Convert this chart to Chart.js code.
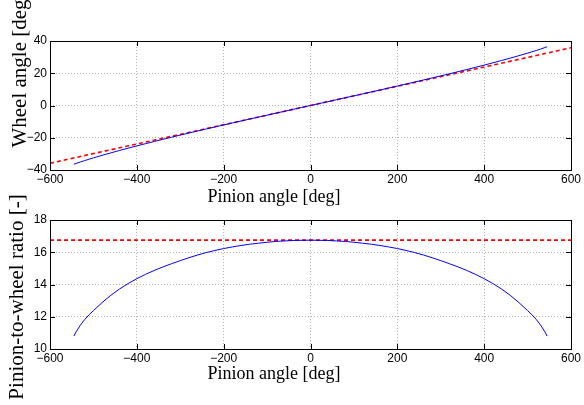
<!DOCTYPE html>
<html>
<head>
<meta charset="utf-8">
<script src="https://cdn.jsdelivr.net/npm/chart.js@4"></script>
<style>
  body { margin: 0; background: #fff; }
  #wrap { position: relative; width: 584px; height: 405px; }
  canvas { position: absolute; left: 0; top: 0; }
</style>
</head>
<body>
<div id="wrap">
  <canvas id="ratioChart" width="584" height="405"></canvas>
  <canvas id="wheelChart" width="584" height="405"></canvas>
</div>
<script>
// pinion angle [deg]
const pinionAngle = [-545, -540, -530, -520, -510, -500, -480, -460, -440, -420, -400, -380, -360, -340, -320,
  -300, -280, -260, -240, -220, -200, -180, -160, -140, -120, -100, -80, -60, -40, -20, 0,
  20, 40, 60, 80, 100, 120, 140, 160, 180, 200, 220, 240, 260, 280, 300,
  320, 340, 360, 380, 400, 420, 440, 460, 480, 500, 510, 520, 530, 540, 545];

// wheel angle [deg]
const wheelAngle = [-36.40, -35.95, -35.00, -34.14, -33.30, -32.49, -30.90, -29.38, -27.90, -26.46, -25.05, -23.67, -22.32, -20.98, -19.66,
  -18.36, -17.08, -15.81, -14.55, -13.30, -12.07, -10.84, -9.62, -8.40, -7.19, -5.99, -4.79, -3.59, -2.39, -1.19, 0,
  1.19, 2.39, 3.59, 4.79, 5.99, 7.19, 8.40, 9.62, 10.84, 12.07, 13.30, 14.55, 15.81, 17.08, 18.36,
  19.66, 20.98, 22.32, 23.67, 25.05, 26.46, 27.90, 29.38, 30.90, 32.49, 33.30, 34.14, 35.00, 35.95, 36.40];

// pinion-to-wheel ratio [-]
const ratio = [10.80, 11.06, 11.48, 11.83, 12.12, 12.38, 12.88, 13.33, 13.72, 14.06, 14.36, 14.63, 14.87, 15.09, 15.29,
  15.48, 15.66, 15.83, 15.98, 16.11, 16.23, 16.33, 16.42, 16.50, 16.56, 16.62, 16.67, 16.70, 16.73, 16.74, 16.75,
  16.74, 16.73, 16.70, 16.67, 16.62, 16.56, 16.50, 16.42, 16.33, 16.23, 16.11, 15.98, 15.83, 15.66, 15.48,
  15.29, 15.09, 14.87, 14.63, 14.36, 14.06, 13.72, 13.33, 12.88, 12.38, 12.12, 11.83, 11.48, 11.06, 10.80];

// constant-ratio reference (red dashed)
const refPinion = [-600, 600];
const refWheel = [-35.8, 35.8];
const refRatio = [16.75, 16.75];

const xTicks = [-600, -400, -200, 0, 200, 400, 600];
const wheelTicks = [-40, -20, 0, 20, 40];
const ratioTicks = [10, 12, 14, 16, 18];

const toPoints = (xs, ys) => xs.map((x, i) => ({ x: x, y: ys[i] }));
const minus = v => String(v).replace('-', '\u2212');

// box, inward ticks and axis titles (MATLAB style)
const framePlugin = {
  id: 'frame',
  afterDraw(chart, args, opts) {
    const { ctx, chartArea: a, scales } = chart;
    ctx.save();
    ctx.strokeStyle = '#000';
    ctx.lineWidth = 1;
    ctx.beginPath();
    scales.x.ticks.forEach(t => {
      const px = Math.round(scales.x.getPixelForValue(t.value)) + 0.5;
      ctx.moveTo(px, a.bottom); ctx.lineTo(px, a.bottom - 5);
      ctx.moveTo(px, a.top); ctx.lineTo(px, a.top + 5);
    });
    scales.y.ticks.forEach(t => {
      const py = Math.round(scales.y.getPixelForValue(t.value)) + 0.5;
      ctx.moveTo(a.left, py); ctx.lineTo(a.left + 5, py);
      ctx.moveTo(a.right, py); ctx.lineTo(a.right - 5, py);
    });
    ctx.stroke();
    ctx.strokeRect(Math.round(a.left) + 0.5, Math.round(a.top) + 0.5,
      Math.round(a.right - a.left), Math.round(a.bottom - a.top));

    ctx.fillStyle = '#000';
    ctx.textAlign = 'center';
    ctx.textBaseline = 'middle';
    ctx.font = '18px "Liberation Serif"';
    ctx.fillText(opts.xTitle, opts.xTitleX, opts.xTitleY);
    ctx.translate(opts.yTitleX, opts.yTitleY);
    ctx.rotate(-Math.PI / 2);
    ctx.font = '21px "Liberation Serif"';
    ctx.fillText(opts.yTitle, 0, 0);
    ctx.restore();
  }
};

function makeScales(yMin, yMax, yTicks) {
  const tickFont = { family: '"Liberation Sans", Arial, sans-serif', size: 12 };
  return {
    x: {
      type: 'linear', min: -600, max: 600,
      afterBuildTicks: s => { s.ticks = xTicks.map(v => ({ value: v })); },
      afterFit: s => { s.height = 40; },
      grid: { color: '#b4b4b4', drawTicks: false, lineWidth: 1 },
      border: { display: false, dash: [1, 2] },
      ticks: { color: '#000', font: tickFont, padding: 2, maxRotation: 0, callback: v => minus(v) }
    },
    y: {
      type: 'linear', min: yMin, max: yMax,
      afterBuildTicks: s => { s.ticks = yTicks.map(v => ({ value: v })); },
      afterFit: s => { s.width = 50; },
      grid: { color: '#b4b4b4', drawTicks: false, lineWidth: 1 },
      border: { display: false, dash: [1, 2] },
      ticks: { color: '#000', font: tickFont, padding: 3, callback: v => minus(v) }
    }
  };
}

function lineSet(data, color, dashed) {
  return {
    data: data,
    borderColor: color,
    borderWidth: dashed ? 1.6 : 1,
    borderDash: dashed ? [4, 3] : [],
    pointRadius: 0,
    tension: 0,
    fill: false
  };
}

new Chart(document.getElementById('wheelChart'), {
  type: 'line',
  data: {
    datasets: [
      lineSet(toPoints(pinionAngle, wheelAngle), '#0000ff', false),
      lineSet(toPoints(refPinion, refWheel), '#ff0000', true)
    ]
  },
  options: {
    responsive: false,
    animation: false,
    layout: { padding: { top: 41, right: 13, bottom: 195, left: 0 } },
    scales: makeScales(-40, 40, wheelTicks),
    plugins: {
      legend: { display: false },
      tooltip: { enabled: false },
      frame: { xTitle: 'Pinion angle [deg]', xTitleX: 274, xTitleY: 197, yTitle: 'Wheel angle [deg]', yTitleX: 20, yTitleY: 70 }
    }
  },
  plugins: [framePlugin]
});

new Chart(document.getElementById('ratioChart'), {
  type: 'line',
  data: {
    datasets: [
      lineSet(toPoints(pinionAngle, ratio), '#0000ff', false),
      lineSet(toPoints(refPinion, refRatio), '#ff0000', true)
    ]
  },
  options: {
    responsive: false,
    animation: false,
    layout: { padding: { top: 220, right: 13, bottom: 16, left: 0 } },
    scales: makeScales(10, 18, ratioTicks),
    plugins: {
      legend: { display: false },
      tooltip: { enabled: false },
      frame: { xTitle: 'Pinion angle [deg]', xTitleX: 274, xTitleY: 374, yTitle: 'Pinion-to-wheel ratio [-]', yTitleX: 17, yTitleY: 297 }
    }
  },
  plugins: [framePlugin]
});
</script>
</body>
</html>
